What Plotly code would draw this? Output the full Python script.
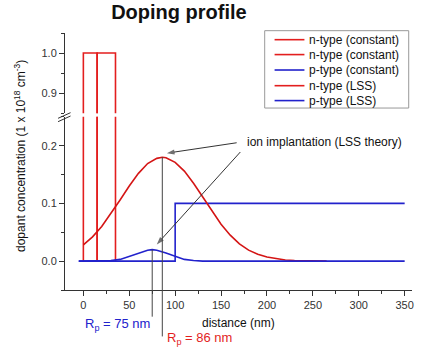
import plotly.graph_objects as go

# ---- data ----
n_const1_x = [0, 0, 15, 15]
n_const1_y = [0, 1.0, 1.0, 0]
n_const2_x = [15, 15, 35, 35]
n_const2_y = [0, 1.0, 1.0, 0]
p_const_x = [-5, 100, 100, 350]
p_const_y = [0, 0, 0.1, 0.1]

n_lss_x = [0, 10, 20, 30, 40, 50, 60, 70, 80, 86, 90, 100, 110, 120, 130, 140, 150,
           160, 170, 180, 190, 200, 210, 220, 230, 240, 250, 265]
n_lss_y = [0.028, 0.042, 0.060, 0.082, 0.106, 0.130, 0.152, 0.169, 0.178, 0.180, 0.179,
           0.171, 0.156, 0.135, 0.111, 0.086, 0.064, 0.045, 0.030, 0.019, 0.012, 0.007,
           0.004, 0.002, 0.001, 0.0005, 0.0002, 0.0]

p_lss_x = [-5, 20, 30, 40, 50, 60, 70, 75, 80, 90, 100, 110, 120, 130, 350]
p_lss_y = [0, 0, 0.001, 0.003, 0.008, 0.014, 0.019, 0.020, 0.019, 0.014, 0.008, 0.003,
           0.001, 0, 0]

legend_names = ["n-type (constant)", "n-type (constant)", "p-type (constant)",
                "n-type (LSS)", "p-type (LSS)"]

x_ticks = [0, 50, 100, 150, 200, 250, 300, 350]
y_low_ticks = [0.0, 0.1, 0.2]
y_up_ticks = [0.9, 1.0]

rp_n, rp_n_peak = 86, 0.180
rp_p, rp_p_peak = 75, 0.020

# arrows: (tail x, tail y) -> (head x, head y)
arrow_red = ([167, 91], [0.205, 0.187])
arrow_blue = ([171, 80], [0.189, 0.029])

RED = "#e31e1e"
RED2 = "#d41515"
BLUE = "#2222cc"
AX = "#333333"
FONT = "Liberation Sans, Arial"

fig = go.Figure()

def add(x, y, name, color, yaxis="y"):
    fig.add_trace(go.Scatter(x=x, y=y, mode="lines", name=name, yaxis=yaxis,
                             line=dict(color=color, width=1.6), showlegend=False))

add(n_const1_x, n_const1_y, legend_names[0], RED)
add(n_const2_x, n_const2_y, legend_names[1], RED)
add(p_const_x, p_const_y, legend_names[2], BLUE)
add(n_lss_x, n_lss_y, legend_names[3], RED2)
add(p_lss_x, p_lss_y, legend_names[4], BLUE)
add(n_const1_x, n_const1_y, legend_names[0], RED, "y2")
add(n_const2_x, n_const2_y, legend_names[1], RED, "y2")

# pointer arrows
for ax_, ay_ in (arrow_red, arrow_blue):
    fig.add_trace(go.Scatter(x=ax_, y=ay_, mode="lines+markers", showlegend=False,
                             hoverinfo="skip", line=dict(color=AX, width=1),
                             marker=dict(symbol=["circle", "arrow"], size=[0, 8],
                                         angleref="previous", color=AX,
                                         line=dict(width=0))))

axis_common = dict(showline=True, linecolor=AX, linewidth=1, ticks="outside",
                   ticklen=5, tickcolor=AX, showgrid=False, zeroline=False,
                   tickfont=dict(family=FONT, size=11, color=AX))

fig.update_layout(
    width=425, height=353,
    margin=dict(l=65, r=13, t=33, b=63),
    paper_bgcolor="white", plot_bgcolor="white",
    showlegend=False,
    title=dict(text="<b>Doping profile</b>", x=0.421, xref="container", xanchor="center",
               y=0.966, yref="container", yanchor="middle",
               font=dict(family=FONT, size=20, color="#111111")),
    xaxis=dict(range=[-20, 358], tickvals=x_ticks, anchor="y",
               minor=dict(dtick=25, tick0=0, ticks="outside", ticklen=3, tickcolor=AX),
               **axis_common),
    yaxis=dict(range=[-0.05, 0.25], domain=[0, 0.674], tickvals=y_low_ticks,
               tickformat=".1f", anchor="x",
               minor=dict(dtick=0.05, tick0=0, ticks="outside", ticklen=3, tickcolor=AX),
               **axis_common),
    yaxis2=dict(range=[0.85, 1.05], domain=[0.6876, 1], tickvals=y_up_ticks,
                tickformat=".1f", anchor="x",
                minor=dict(dtick=0.05, tick0=0.85, ticks="outside", ticklen=3, tickcolor=AX),
                **axis_common),
)

# axis break marks
for (y0, y1) in [(0.668, 0.690), (0.655, 0.677)]:
    fig.add_shape(type="line", xref="paper", yref="paper", x0=-0.02, x1=0.016,
                  y0=y0, y1=y1, line=dict(color=AX, width=1))

# Rp vertical leader lines: part inside the plot (data coords) + extension below axis
for xv, peak, ext in ((rp_n, rp_n_peak, -0.268), (rp_p, rp_p_peak, -0.154)):
    fig.add_shape(type="line", xref="x", yref="y", x0=xv, x1=xv, y0=-0.05, y1=peak,
                  line=dict(color="#444444", width=1))
    fig.add_shape(type="line", xref="x", yref="y domain", x0=xv, x1=xv, y0=ext, y1=0,
                  line=dict(color="#444444", width=1))

# manual legend (compact line spacing like the reference)
leg_colors = [RED, RED, BLUE, RED, BLUE]
fig.add_shape(type="rect", xref="paper", yref="paper", x0=0.5755, x1=0.9905,
              y0=0.708, y1=1.009, line=dict(color="#999999", width=1),
              fillcolor="white", layer="above")
leg_y = [0.974, 0.916, 0.856, 0.795, 0.737]
for name, col, yy in zip(legend_names, leg_colors, leg_y):
    fig.add_shape(type="line", xref="paper", yref="paper", x0=0.604, x1=0.690,
                  y0=yy, y1=yy, line=dict(color=col, width=1.6), layer="above")
    fig.add_annotation(x=0.697, y=yy, xref="paper", yref="paper", text=name,
                       showarrow=False, xanchor="left", yanchor="middle",
                       font=dict(family=FONT, size=12, color="#111111"))

ann_font = dict(family=FONT, size=12, color="#111111")

fig.add_annotation(x=176, y=0.206, xref="x", yref="y", text="ion implantation (LSS theory)",
                   showarrow=False, xanchor="left", yanchor="middle", font=ann_font)

# Rp labels
fig.add_annotation(x=0.25, y=-0.136, xref="paper", yref="paper",
                   text="R<sub>p</sub> = %d nm" % rp_p, showarrow=False,
                   xanchor="right", yanchor="middle",
                   font=dict(family=FONT, size=13, color=BLUE))
fig.add_annotation(x=0.288, y=-0.187, xref="paper", yref="paper",
                   text="R<sub>p</sub> = %d nm" % rp_n, showarrow=False,
                   xanchor="left", yanchor="middle",
                   font=dict(family=FONT, size=13, color=RED))

# axis titles
fig.add_annotation(x=0.5, y=-0.128, xref="paper", yref="paper", text="distance (nm)",
                   showarrow=False, xanchor="center", yanchor="middle", font=ann_font)
fig.add_annotation(x=-0.13, y=0.521, xref="paper", yref="paper", textangle=-90,
                   text="dopant concentration (1 x 10<sup>18</sup> cm<sup>-3</sup>)",
                   showarrow=False, xanchor="center", yanchor="middle", font=ann_font)

fig.write_html("out.html")
